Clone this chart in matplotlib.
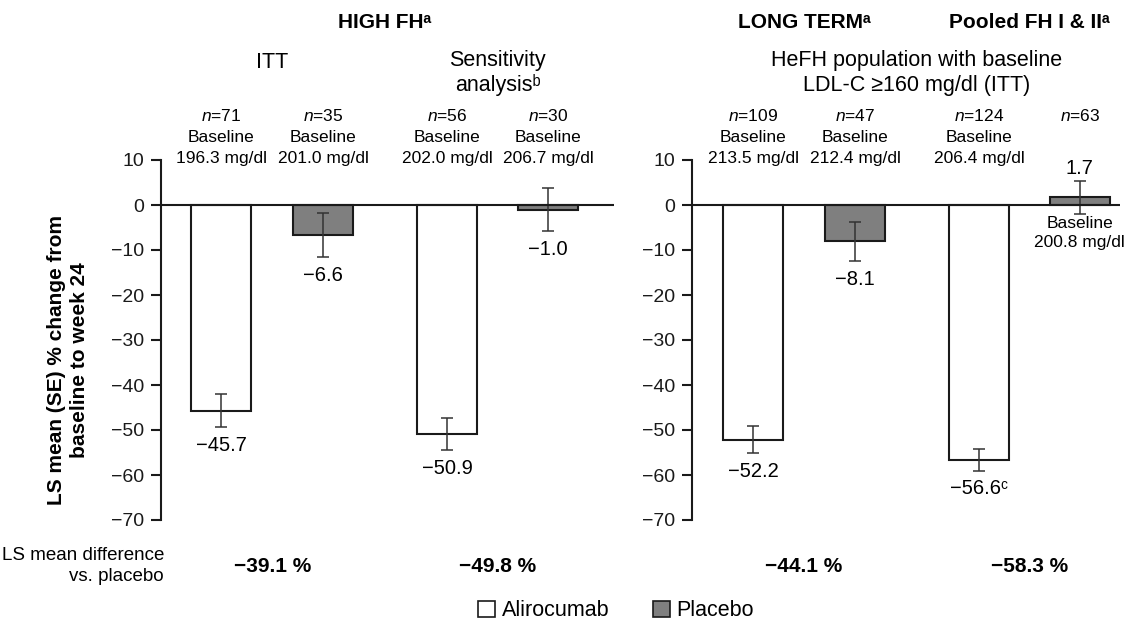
import matplotlib
matplotlib.use("Agg")
import matplotlib.pyplot as plt
from matplotlib.patches import Patch
from matplotlib import transforms

plt.rcParams['font.family'] = ['Liberation Sans', 'DejaVu Sans']
plt.rcParams['mathtext.fontset'] = 'custom'
plt.rcParams['mathtext.rm'] = 'Liberation Sans'
plt.rcParams['mathtext.it'] = 'Liberation Sans:italic'

# values
alir_mean = [-45.7, -50.9, -52.2, -56.6]
alir_se = [3.6, 3.5, 3.0, 2.4]
plac_mean = [-6.6, -1.0, -8.1, 1.7]
plac_se = [4.9, 4.8, 4.3, 3.6]
alir_n = [71, 56, 109, 124]
plac_n = [35, 30, 47, 63]
alir_base = ["196.3", "202.0", "213.5", "206.4"]
plac_base = ["201.0", "206.7", "212.4", "200.8"]
alir_label_sfx = ["", "", "", "ᶜ"]
diff_labels = ["−39.1 %", "−49.8 %", "−44.1 %", "−58.3 %"]
subgroup_titles = ["ITT", "Sensitivity\nanalysisᵇ"]
study_titles = ["LONG TERMᵃ", "Pooled FH I & IIᵃ"]
yticks = [10, 0, -10, -20, -30, -40, -50, -60, -70]

W, H = 1140, 623
fig = plt.figure(figsize=(W / 100, H / 100), dpi=100)


def fx(px):
    return px / W


def fy(py):
    return 1 - py / H


ax_bottom, ax_top = fy(520), fy(160)
axes = [
    fig.add_axes([fx(161), ax_bottom, fx(614 - 161), ax_top - ax_bottom]),
    fig.add_axes([fx(692), ax_bottom, fx(1120 - 692), ax_top - ax_bottom]),
]
xlims = [(-0.59, 3.85), (-0.6, 3.6)]
xa = [0.0, 2.216]   # alirocumab bar positions inside a panel
xp = [1.0, 3.206]   # placebo bar positions
bw = 0.59
edge = "#1a1a1a"
gray = "#7f7f7f"
fs_small = 12.5
fs_val = 14.5
fs_title = 15.5

for p, ax in enumerate(axes):
    idx = [2 * p, 2 * p + 1]
    am = [alir_mean[i] for i in idx]
    ae = [alir_se[i] for i in idx]
    pm = [plac_mean[i] for i in idx]
    pe = [plac_se[i] for i in idx]
    ax.bar(xa, am, width=bw, color="white", edgecolor=edge, linewidth=1.5, zorder=2)
    ax.bar(xp, pm, width=bw, color=gray, edgecolor=edge, linewidth=1.5, zorder=2)
    ax.errorbar(xa, am, yerr=ae, fmt="none", ecolor="#333333", elinewidth=1.1,
                capsize=4.5, capthick=1.1, zorder=3)
    ax.errorbar(xp, pm, yerr=pe, fmt="none", ecolor="#333333", elinewidth=1.1,
                capsize=4.5, capthick=1.1, zorder=3)
    ax.axhline(0, color=edge, linewidth=1.5, zorder=4)
    ax.set_xlim(*xlims[p])
    ax.set_ylim(-70, 10)
    ax.set_yticks(yticks)
    ax.set_xticks([])
    for s in ["top", "right", "bottom"]:
        ax.spines[s].set_visible(False)
    ax.spines["left"].set_linewidth(1.5)
    ax.spines["left"].set_color(edge)
    ax.tick_params(axis="y", direction="out", length=7, width=1.5, labelsize=14,
                   pad=5, colors=edge)
    ax.patch.set_alpha(0)

    tr = transforms.blended_transform_factory(ax.transData, fig.transFigure)
    for k, i in enumerate(idx):
        # value labels
        ax.text(xa[k], alir_mean[i] - alir_se[i] - 2.0, f"−{abs(alir_mean[i]):.1f}" + alir_label_sfx[i],
                ha="center", va="top", fontsize=fs_val)
        if plac_mean[i] < 0:
            ax.text(xp[k], plac_mean[i] - plac_se[i] - 2.0, f"−{abs(plac_mean[i]):.1f}",
                    ha="center", va="top", fontsize=fs_val)
        else:
            ax.text(xp[k], plac_mean[i] + plac_se[i] + 0.6, f"{plac_mean[i]:.1f}",
                    ha="center", va="bottom", fontsize=fs_val)
            ax.text(xp[k], plac_mean[i] - plac_se[i] - 0.6, f"Baseline\n{plac_base[i]} mg/dl",
                    ha="center", va="top", fontsize=fs_small, linespacing=1.35)
        # header annotations above bars
        ax.text(xa[k], fy(116), rf"$\it{{n}}$={alir_n[i]}", transform=tr,
                ha="center", va="center", fontsize=fs_small)
        ax.text(xa[k], fy(137), "Baseline", transform=tr, ha="center", va="center", fontsize=fs_small)
        ax.text(xa[k], fy(158), f"{alir_base[i]} mg/dl", transform=tr,
                ha="center", va="center", fontsize=fs_small)
        ax.text(xp[k], fy(116), rf"$\it{{n}}$={plac_n[i]}", transform=tr,
                ha="center", va="center", fontsize=fs_small)
        if plac_mean[i] < 0:
            ax.text(xp[k], fy(137), "Baseline", transform=tr, ha="center", va="center", fontsize=fs_small)
            ax.text(xp[k], fy(158), f"{plac_base[i]} mg/dl", transform=tr,
                    ha="center", va="center", fontsize=fs_small)
        # difference vs placebo, centred under each pair
        pair_x = (xa[k] + xp[k]) / 2
        ax.text(pair_x, fy(567), diff_labels[i], transform=tr, ha="center", va="center",
                fontsize=15, fontweight="bold")
        if p == 0:
            ax.text(pair_x, fy(73) if k == 1 else fy(62), subgroup_titles[k], transform=tr,
                    ha="center", va="center", fontsize=fs_title, linespacing=1.2)
        else:
            ax.text(pair_x, fy(22), study_titles[k], transform=tr, ha="center", va="center",
                    fontsize=15, fontweight="bold")
    mid = (xa[0] + xp[1]) / 2
    if p == 0:
        ax.text(mid, fy(22), "HIGH FHᵃ", transform=tr, ha="center", va="center",
                fontsize=15, fontweight="bold")
    else:
        ax.text(mid, fy(73), "HeFH population with baseline\nLDL-C ≥160 mg/dl (ITT)", transform=tr,
                ha="center", va="center", fontsize=fs_title, linespacing=1.2)

# y label
fig.text(fx(68), fy(360), "LS mean (SE) % change from\nbaseline to week 24", rotation=90,
         ha="center", va="center", fontsize=15, fontweight="bold", linespacing=1.3)

# LS mean difference row
fig.text(fx(164), fy(566), "LS mean difference\nvs. placebo", ha="right", va="center",
         fontsize=13.5, linespacing=1.3)

handles = [Patch(facecolor="white", edgecolor=edge, linewidth=1.2, label="Alirocumab"),
           Patch(facecolor=gray, edgecolor=edge, linewidth=1.2, label="Placebo")]
fig.legend(handles=handles, loc="center", bbox_to_anchor=(fx(616), fy(611)), ncol=2,
           frameon=False, fontsize=15.5, handlelength=0.8, handleheight=0.8,
           handletextpad=0.3, columnspacing=2.0, borderpad=0.0)

fig.savefig("out.png", dpi=100)
